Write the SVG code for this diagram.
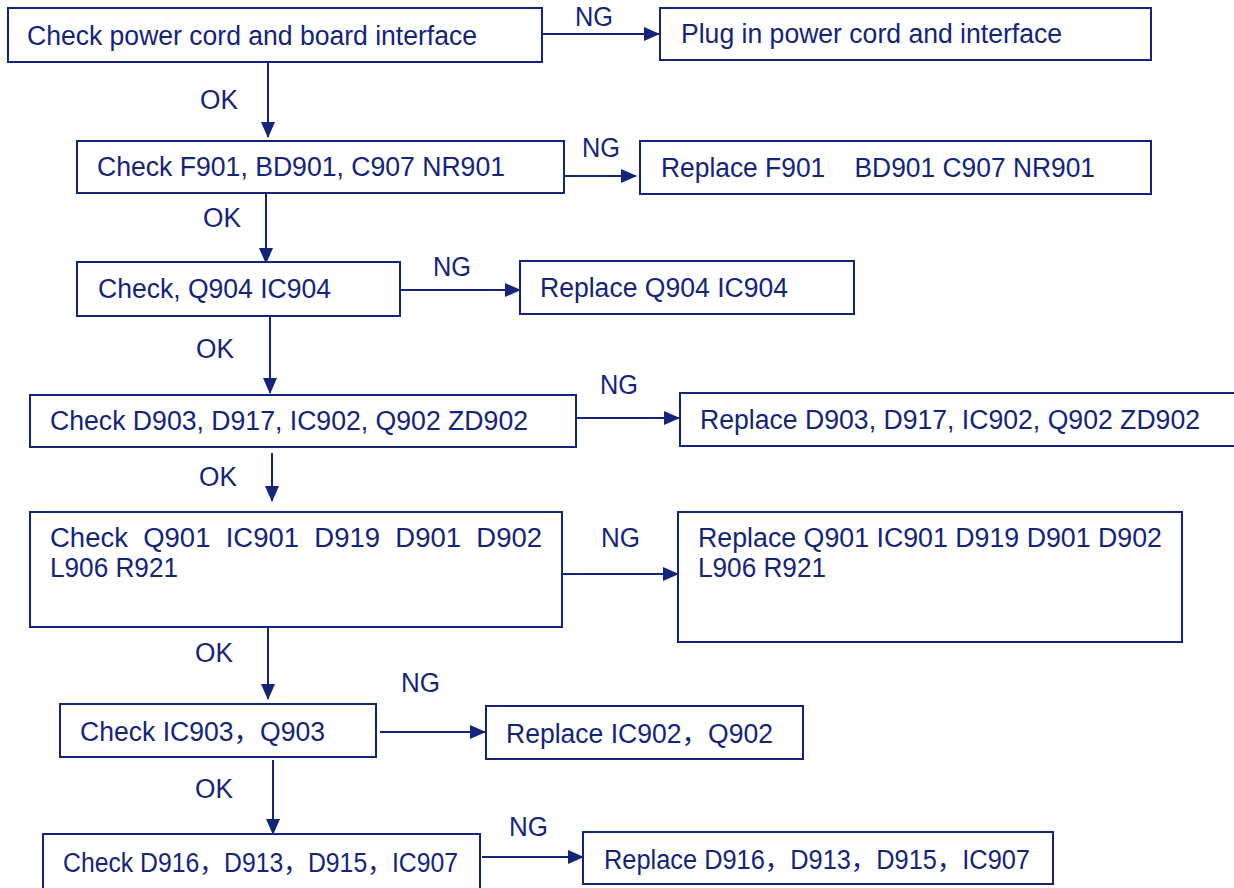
<svg xmlns="http://www.w3.org/2000/svg" width="1234" height="888" viewBox="0 0 1234 888">
<defs>
<style>
.box{fill:#fff;stroke:#14247a;stroke-width:2}
.t{font-family:"Liberation Sans","Noto Sans CJK SC",sans-serif;font-size:27px;fill:#14247a;white-space:pre}
.c{stroke:#14247a;stroke-width:2;fill:none;marker-end:url(#ah)}
</style>
<marker id="ah" markerUnits="userSpaceOnUse" markerWidth="16" markerHeight="14" refX="15" refY="7" orient="auto">
<path d="M0,0 L16,7 L0,14 Z" fill="#14247a"/>
</marker>
</defs>
<rect width="1234" height="888" fill="#fff"/>
<g id="connectors">
<line class="c" x1="542" y1="34" x2="659" y2="34"/>
<line class="c" x1="268" y1="62" x2="268" y2="137"/>
<line class="c" x1="564" y1="176" x2="636" y2="176"/>
<line class="c" x1="266" y1="193" x2="266" y2="263"/>
<line class="c" x1="400" y1="290" x2="520" y2="290"/>
<line class="c" x1="270" y1="316" x2="270" y2="393"/>
<line class="c" x1="576" y1="418" x2="679" y2="418"/>
<line class="c" x1="272" y1="453" x2="272" y2="501"/>
<line class="c" x1="562" y1="574" x2="678" y2="574"/>
<line class="c" x1="268" y1="627" x2="268" y2="699"/>
<line class="c" x1="380" y1="732" x2="485" y2="732"/>
<line class="c" x1="273" y1="760" x2="273" y2="834"/>
<line class="c" x1="482" y1="857" x2="583" y2="857"/>
<text class="t" x="575" y="26" textLength="38" lengthAdjust="spacingAndGlyphs">NG</text>
<text class="t" x="200" y="109" textLength="38" lengthAdjust="spacingAndGlyphs">OK</text>
<text class="t" x="582" y="157" textLength="38" lengthAdjust="spacingAndGlyphs">NG</text>
<text class="t" x="203" y="227" textLength="38" lengthAdjust="spacingAndGlyphs">OK</text>
<text class="t" x="433" y="276" textLength="38" lengthAdjust="spacingAndGlyphs">NG</text>
<text class="t" x="196" y="358" textLength="38" lengthAdjust="spacingAndGlyphs">OK</text>
<text class="t" x="600" y="394" textLength="38" lengthAdjust="spacingAndGlyphs">NG</text>
<text class="t" x="199" y="486" textLength="38" lengthAdjust="spacingAndGlyphs">OK</text>
<text class="t" x="601" y="547" textLength="39" lengthAdjust="spacingAndGlyphs">NG</text>
<text class="t" x="195" y="662" textLength="38" lengthAdjust="spacingAndGlyphs">OK</text>
<text class="t" x="401" y="692" textLength="39" lengthAdjust="spacingAndGlyphs">NG</text>
<text class="t" x="195" y="798" textLength="38" lengthAdjust="spacingAndGlyphs">OK</text>
<text class="t" x="509" y="836" textLength="39" lengthAdjust="spacingAndGlyphs">NG</text>
</g>
<g id="n1"><rect class="box" x="8" y="8" width="534" height="54"/><text class="t" x="27" y="45" textLength="450" lengthAdjust="spacingAndGlyphs">Check power cord and board interface</text></g>
<g id="n2"><rect class="box" x="660" y="8" width="491" height="52"/><text class="t" x="681" y="43" textLength="381" lengthAdjust="spacingAndGlyphs">Plug in power cord and interface</text></g>
<g id="n3"><rect class="box" x="77" y="141" width="487" height="52"/><text class="t" x="97" y="176" textLength="408" lengthAdjust="spacingAndGlyphs">Check F901, BD901, C907 NR901</text></g>
<g id="n4"><rect class="box" x="640" y="141" width="511" height="53"/><text class="t" x="661" y="177" textLength="434" lengthAdjust="spacingAndGlyphs" xml:space="preserve">Replace F901    BD901 C907 NR901</text></g>
<g id="n5"><rect class="box" x="77" y="262" width="323" height="54"/><text class="t" x="98" y="298" textLength="233" lengthAdjust="spacingAndGlyphs">Check, Q904 IC904</text></g>
<g id="n6"><rect class="box" x="520" y="261" width="334" height="53"/><text class="t" x="540" y="297" textLength="248" lengthAdjust="spacingAndGlyphs">Replace Q904 IC904</text></g>
<g id="n7"><rect class="box" x="30" y="395" width="546" height="52"/><text class="t" x="50" y="430" textLength="478" lengthAdjust="spacingAndGlyphs">Check D903, D917, IC902, Q902 ZD902</text></g>
<g id="n8"><rect class="box" x="680" y="393" width="560" height="53"/><text class="t" x="700" y="429" textLength="500" lengthAdjust="spacingAndGlyphs">Replace D903, D917, IC902, Q902 ZD902</text></g>
<g id="n9"><rect class="box" x="30" y="512" width="532" height="115"/><text class="t" x="50" y="547" textLength="492" lengthAdjust="spacingAndGlyphs" xml:space="preserve">Check  Q901  IC901  D919  D901  D902</text><text class="t" x="50" y="577" textLength="128" lengthAdjust="spacingAndGlyphs">L906 R921</text></g>
<g id="n10"><rect class="box" x="678" y="512" width="504" height="130"/><text class="t" x="698" y="547" textLength="464" lengthAdjust="spacingAndGlyphs">Replace Q901 IC901 D919 D901 D902</text><text class="t" x="698" y="577" textLength="128" lengthAdjust="spacingAndGlyphs">L906 R921</text></g>
<g id="n11"><rect class="box" x="60" y="704" width="316" height="53"/><text class="t" x="80" y="741" textLength="245" lengthAdjust="spacingAndGlyphs">Check IC903，Q903</text></g>
<g id="n12"><rect class="box" x="486" y="706" width="317" height="53"/><text class="t" x="506" y="743" textLength="267" lengthAdjust="spacingAndGlyphs">Replace IC902，Q902</text></g>
<g id="n13"><rect class="box" x="43" y="834" width="437" height="60"/><text class="t" x="63" y="872" textLength="395" lengthAdjust="spacingAndGlyphs">Check D916，D913，D915，IC907</text></g>
<g id="n14"><rect class="box" x="583" y="832" width="470" height="52"/><text class="t" x="604" y="869" textLength="426" lengthAdjust="spacingAndGlyphs">Replace D916，D913，D915，IC907</text></g>
</svg>
